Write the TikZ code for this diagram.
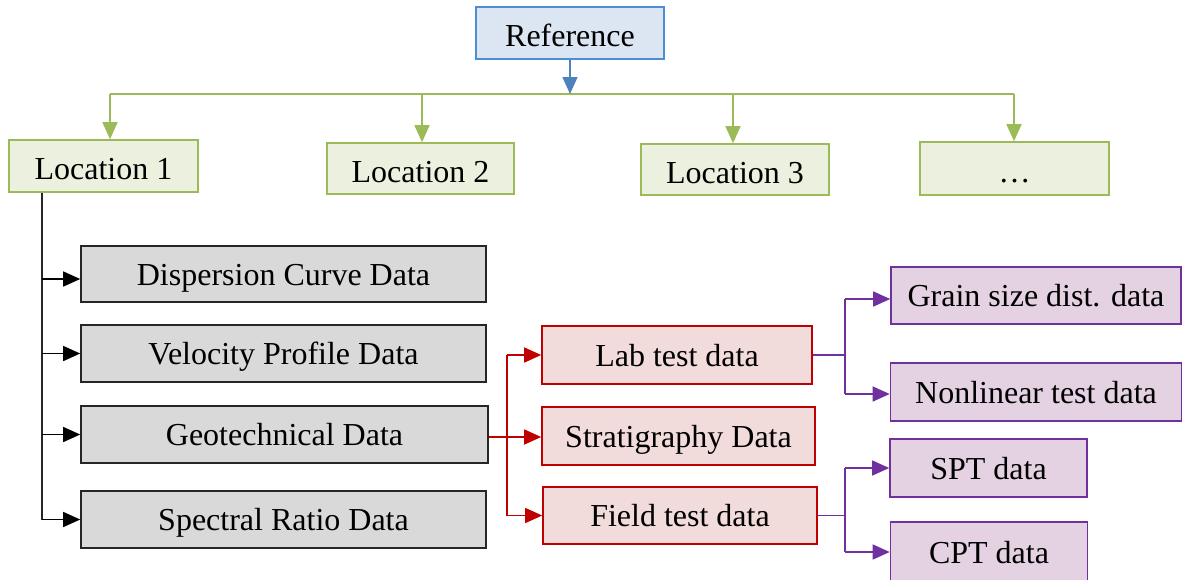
\documentclass[tikz,border=0pt]{standalone}
\usepackage{fontspec}
\setmainfont{Liberation Serif}
\usetikzlibrary{arrows.meta}
\definecolor{refFill}{HTML}{DCE6F2}
\definecolor{refLine}{HTML}{4A8FD6}
\definecolor{refArrow}{HTML}{4F81BD}
\definecolor{grnFill}{HTML}{EBF1DE}
\definecolor{grnLine}{HTML}{9BBB59}
\definecolor{gryFill}{HTML}{D9D9D9}
\definecolor{gryLine}{HTML}{262626}
\definecolor{redFill}{HTML}{F2DCDB}
\definecolor{redLine}{HTML}{C00000}
\definecolor{purFill}{HTML}{E4D2E3}
\definecolor{purLine}{HTML}{7030A0}
\begin{document}
\begin{tikzpicture}[x=1pt,y=-1pt,
  basebox/.style={draw, line width=1.6pt, inner sep=0pt, anchor=center,
    text height=22pt, text depth=0pt,
    font=\fontsize{32}{38}\selectfont},
  refbox/.style={basebox, fill=refFill, draw=refLine, text height=27pt},
  locbox/.style={basebox, fill=grnFill, draw=grnLine, text height=27pt},
  grybox/.style={basebox, fill=gryFill, draw=gryLine},
  redbox/.style={basebox, fill=redFill, draw=redLine},
  purbox/.style={basebox, fill=purFill, draw=purLine},
  conn/.style={line width=1.5pt, -{Triangle[length=17pt,width=15pt]}},
  plain/.style={line width=1.5pt}]
\useasboundingbox (0,0) rectangle (1182,579);
\clip (0,0) rectangle (1182,579);

% nodes
\node[refbox, minimum width=188pt, minimum height=52pt] (ref) at (570,33) {Reference};
\node[locbox, minimum width=189pt, minimum height=52pt] (loc1) at (103.5,166) {Location 1};
\node[locbox, minimum width=187pt, minimum height=51pt] (loc2) at (420.5,168.5) {Location 2};
\node[locbox, minimum width=188pt, minimum height=51pt] (loc3) at (735,169.5) {Location 3};
\node[locbox, minimum width=189pt, minimum height=53pt] (loc4) at (1014.5,168.5) {\dots};

\node[grybox, minimum width=405pt, minimum height=56pt] (disp) at (283.5,274) {Dispersion Curve Data};
\node[grybox, minimum width=405pt, minimum height=57pt] (velo) at (283.5,353.5) {Velocity Profile Data};
\node[grybox, minimum width=407pt, minimum height=57pt] (geo) at (284.5,434.5) {Geotechnical Data};
\node[grybox, minimum width=405pt, minimum height=57pt] (spec) at (283.5,519.5) {Spectral Ratio Data};

\node[redbox, minimum width=270pt, minimum height=58pt] (lab) at (677,355) {Lab test data};
\node[redbox, minimum width=273pt, minimum height=58pt] (strat) at (678.5,436) {Stratigraphy Data};
\node[redbox, minimum width=274pt, minimum height=57pt] (field) at (680,515.5) {Field test data};

\node[purbox, minimum width=290pt, minimum height=57pt] (grain) at (1036,295.5) {Grain size dist. data};
\node[purbox, minimum width=291pt, minimum height=58pt] (nonlin) at (1036,392) {Nonlinear test data};
\node[purbox, minimum width=197pt, minimum height=58pt] (spt) at (988.5,468) {SPT data};
\node[purbox, minimum width=197pt, minimum height=60pt] (cpt) at (989,552) {CPT data};

% reference to locations
\coordinate (bus) at (570,94);
\coordinate (gl) at (110,94);
\coordinate (gb) at (422,94);
\coordinate (gc) at (733,94);
\coordinate (gr) at (1014,94);
\draw[plain, grnLine] (gl) -- (gr);
\draw[conn, refArrow] (ref.south) -- (bus);
\draw[conn, grnLine] (gl) -- (gl |- loc1.north);
\draw[conn, grnLine] (gb) -- (gb |- loc2.north);
\draw[conn, grnLine] (gc) -- (gc |- loc3.north);
\draw[conn, grnLine] (gr) -- (gr |- loc4.north);

% location 1 to data
\coordinate (b0) at (42,0);
\coordinate (b1) at (42,279);
\draw[plain, gryLine] (loc1.south -| b0) -- (b0 |- spec.west);
\draw[conn, black] (b1) -- (b1 -| disp.west);
\draw[conn, black] (b0 |- velo.west) -- (velo.west);
\draw[conn, black] (b0 |- geo.west) -- (geo.west);
\draw[conn, black] (b0 |- spec.west) -- (spec.west);

% geotechnical to red
\coordinate (r0) at (507,0);
\coordinate (r1) at (507,437);
\draw[plain, redLine] (r1 -| geo.east) -- (r1);
\draw[plain, redLine] (r0 |- lab.west) -- (r0 |- field.west);
\draw[conn, redLine] (r0 |- lab.west) -- (lab.west);
\draw[conn, redLine] (r1) -- (r1 -| strat.west);
\draw[conn, redLine] (r0 |- field.west) -- (field.west);

% red to purple
\coordinate (p0) at (845,0);
\coordinate (pa) at (845,299);
\coordinate (pb) at (845,394);
\draw[plain, purLine] (lab.east) -- (p0 |- lab.east);
\draw[plain, purLine] (pa) -- (pb);
\draw[conn, purLine] (pa) -- (pa -| grain.west);
\draw[conn, purLine] (pb) -- (pb -| nonlin.west);
\draw[plain, purLine] (field.east) -- (p0 |- field.east);
\draw[plain, purLine] (p0 |- spt.west) -- (p0 |- cpt.west);
\draw[conn, purLine] (p0 |- spt.west) -- (spt.west);
\draw[conn, purLine] (p0 |- cpt.west) -- (cpt.west);
\end{tikzpicture}
\end{document}
